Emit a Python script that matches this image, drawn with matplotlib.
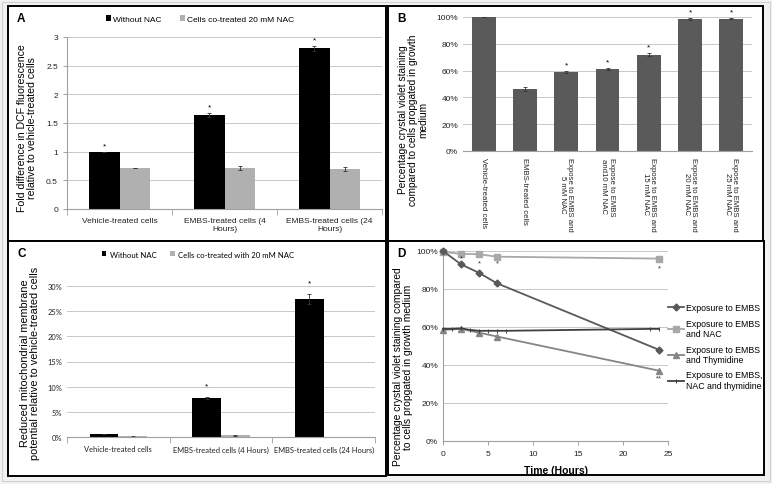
import matplotlib
matplotlib.use('Agg')
import matplotlib.pyplot as plt
from matplotlib.patches import Rectangle
from matplotlib.ticker import PercentFormatter, FixedLocator
import numpy as np

plt.rcParams['font.family'] = ['Liberation Sans', 'DejaVu Sans']

# ---- panel A data ----
a_cats = ['Vehicle-treated cells', 'EMBS-treated cells (4\nHours)', 'EMBS-treated cells (24\nHours)']
a_without = [1.00, 1.64, 2.80]
a_without_err = [0.0, 0.04, 0.05]
a_nac = [0.715, 0.715, 0.70]
a_nac_err = [0.005, 0.03, 0.03]

# ---- panel B data ----
b_cats = ['Vehicle-treated cells', 'EMBS-treated cells', 'Expose to EMBS and\n5 mM NAC',
          'Expose to EMBS\nand10 mM NAC', 'Expose to EMBS and\n15 mM NAC',
          'Expose to EMBS and\n20 mM NAC', 'Expose to EMBS and\n25 mM NAC']
b_vals = [1.00, 0.46, 0.59, 0.61, 0.72, 0.985, 0.988]
b_err = [0.0, 0.015, 0.01, 0.007, 0.012, 0.005, 0.005]
b_star = [False, False, True, True, True, True, True]

# ---- panel C data ----
c_cats = ['Vehicle-treated cells', 'EMBS-treated cells (4 Hours)', 'EMBS-treated cells (24 Hours)']
c_without = [0.006, 0.077, 0.275]
c_without_err = [0.0005, 0.002, 0.010]
c_nac = [0.001, 0.0035, 0.0]
c_nac_err = [0.0005, 0.0008, 0.0]
c_star = [False, True, True]

# ---- panel D data ----
d_hours = [0, 2, 4, 6, 24]
d_embs = [100, 93, 88.5, 83, 48]
d_nac = [99.5, 98.5, 98.3, 97, 96]
d_thy = [58.5, 59, 57, 55, 37]
d_all_hours = [0, 1, 2, 3, 4, 5, 6, 7, 23, 24]
d_all = [59, 59, 59.3, 58.5, 58, 58, 58, 58, 59, 59]
d_star_x = [2, 4, 6, 24, 24]
d_star_y = [96.5, 94, 94, 91, 33]
d_star_txt = ['*', '*', '*', '*', '**']

W, H = 772, 485
fig = plt.figure(figsize=(W / 100, H / 100), dpi=100, facecolor='#f2f2f2')


def fx(px):
    return px / W


def fy(py):
    return 1 - py / H


def panel(x0, y0, x1, y1, letter):
    fig.add_artist(Rectangle((fx(x0), fy(y1)), fx(x1 - x0), (y1 - y0) / H,
                             transform=fig.transFigure, facecolor='white',
                             edgecolor='black', linewidth=1.4, zorder=0))
    fig.text(fx(x0 + 9), fy(y0 + 12), letter, fontsize=8.5, fontweight='bold',
             ha='left', va='center')


def ylab(px, py, txt, size=7.5, ls=1.15):
    fig.text(fx(px), fy(py), txt, rotation=90, ha='center', va='center',
             fontsize=size, linespacing=ls, multialignment='center')


def make_ax(x0, y0, x1, y1):
    ax = fig.add_axes([fx(x0), fy(y1), fx(x1 - x0), (y1 - y0) / H])
    ax.set_facecolor('none')
    for s in ['top', 'right']:
        ax.spines[s].set_visible(False)
    ax.spines['bottom'].set_color('#a0a0a0')
    ax.spines['left'].set_color('#a0a0a0')
    ax.spines['bottom'].set_linewidth(0.8)
    ax.spines['left'].set_linewidth(0.8)
    ax.grid(axis='y', color='#c8c8c8', linewidth=0.7)
    ax.set_axisbelow(True)
    ax.tick_params(colors='#a0a0a0', labelcolor='#222222', labelsize=6, width=0.7, length=3)
    return ax


fig.add_artist(Rectangle((fx(2), fy(482)), fx(768), 479 / H, transform=fig.transFigure,
                         facecolor='none', edgecolor='#d0d0d0', linewidth=0.8, zorder=0))
panel(8, 7, 386, 242, 'A')
panel(388, 7, 763, 242, 'B')
panel(8, 242, 386, 477, 'C')
panel(388, 242, 764, 476, 'D')

# ---------------- A ----------------
ax = make_ax(67, 38, 382, 210)
x = np.arange(len(a_cats))
w = 0.286
ekw = dict(elinewidth=0.6, ecolor='#333333', capthick=0.6)
ax.bar(x - w / 2, a_without, w, yerr=a_without_err, capsize=1.5, error_kw=ekw,
       color='black', label='Without NAC')
ax.bar(x + w / 2, a_nac, w, yerr=a_nac_err, capsize=1.5, error_kw=ekw,
       color='#b0b0b0', label='Cells co-treated 20 mM NAC')
for i in range(len(a_cats)):
    ax.text(x[i] - w / 2, a_without[i] + a_without_err[i] + 0.1, '*', ha='center',
            va='center', fontsize=6)
ax.set_xlim(-0.5, 2.5)
ax.set_ylim(0, 3)
ax.set_yticks([0, 0.5, 1, 1.5, 2, 2.5, 3])
ax.set_yticklabels(['0', '0.5', '1', '1.5', '2', '2.5', '3'])
ax.set_xticks(x)
ax.set_xticklabels(a_cats)
ax.tick_params(axis='x', length=0, pad=6)
ax.xaxis.set_minor_locator(FixedLocator([-0.5, 0.5, 1.5, 2.5]))
ax.tick_params(axis='x', which='minor', length=4, color='#a0a0a0')
ylab(27, 128, 'Fold difference in DCF fluorescence\nrelative to vehicle-treated cells', 7.6, 1.1)
ax.legend(loc='center', bbox_to_anchor=(fx(200), fy(20)), bbox_transform=fig.transFigure,
          ncol=2, frameon=False, fontsize=6, handlelength=0.6, handleheight=0.6,
          handletextpad=0.2, columnspacing=2.2)

# ---------------- B ----------------
ax = make_ax(463, 18, 752, 152)
x = np.arange(len(b_cats))
ax.bar(x, b_vals, 0.58, yerr=b_err, capsize=1.5, error_kw=ekw, color='#5a5a5a')
for i in range(len(b_cats)):
    if b_star[i]:
        ax.text(x[i], b_vals[i] + b_err[i] + 0.045, '*', ha='center', va='center',
                fontsize=6, clip_on=False)
ax.set_xlim(-0.5, len(b_cats) - 0.5)
ax.set_ylim(0, 1)
ax.set_yticks(np.linspace(0, 1, 6))
ax.yaxis.set_major_formatter(PercentFormatter(1.0, decimals=0))
ax.set_xticks(x)
ax.set_xticklabels(b_cats, rotation=270, fontsize=5.6, linespacing=1.0)
ax.tick_params(axis='x', length=0, pad=4)
ax.tick_params(axis='y', length=0)
ax.spines['left'].set_visible(False)
ylab(413, 120, 'Percentage crystal violet staining\ncompared to cells propgated in growth\nmedium',
     7.3, 1.05)

# ---------------- C ----------------
ax = make_ax(67, 287, 375, 438)
x = np.arange(len(c_cats))
w = 0.28
ax.bar(x - w / 2, c_without, w, yerr=c_without_err, capsize=1.5, error_kw=ekw,
       color='black', label='Without NAC')
ax.bar(x + w / 2, c_nac, w, yerr=c_nac_err, capsize=1.5, error_kw=ekw,
       color='#b0b0b0', label='Cells co-treated with 20 mM NAC')
for i in range(len(c_cats)):
    if c_star[i]:
        ax.text(x[i] - w / 2, c_without[i] + c_without_err[i] + 0.022, '*', ha='center',
                va='center', fontsize=6, clip_on=False)
ax.set_xlim(-0.5, 2.5)
ax.set_ylim(0, 0.30)
ax.set_yticks(np.linspace(0, 0.30, 7))
ax.yaxis.set_major_formatter(PercentFormatter(1.0, decimals=0))
ax.set_xticks(x)
ax.set_xticklabels(c_cats, family=['Lato', 'DejaVu Sans'], fontsize=5.4)
for lab in ax.get_yticklabels():
    lab.set_family(['Lato', 'DejaVu Sans'])
    lab.set_fontsize(5.4)
ax.tick_params(axis='x', length=0, pad=6)
ax.tick_params(axis='y', length=0)
ax.spines['left'].set_visible(False)
ax.xaxis.set_minor_locator(FixedLocator([-0.5, 0.5, 1.5, 2.5]))
ax.tick_params(axis='x', which='minor', length=4, color='#a0a0a0')
ylab(30, 363, 'Reduced mitochondrial membrane\npotential relative to vehicle-treated cells', 7.8, 1.1)
ax.legend(loc='center', bbox_to_anchor=(fx(198), fy(255)), bbox_transform=fig.transFigure,
          ncol=2, frameon=False, prop={'family': ['Lato', 'DejaVu Sans'], 'size': 5.6},
          handlelength=0.6, handleheight=0.6, handletextpad=0.4, columnspacing=1.8)

# ---------------- D ----------------
ax = make_ax(443, 252, 668, 442)
ax.plot(d_hours, d_embs, color='#595959', marker='D', markersize=3.5, linewidth=1.3,
        label='Exposure to EMBS', clip_on=False, zorder=4)
ax.plot(d_hours, d_nac, color='#a8a8a8', marker='s', markersize=4.2, linewidth=1.3,
        label='Exposure to EMBS\nand NAC', clip_on=False, zorder=3)
ax.plot(d_hours, d_thy, color='#858585', marker='^', markersize=4.5, linewidth=1.3,
        label='Exposure to EMBS\nand Thymidine', clip_on=False, zorder=3)
ax.plot(d_all_hours, d_all, color='#404040', marker='|', markersize=3.5, markeredgewidth=0.7,
        linewidth=1.3, label='Exposure to EMBS,\nNAC and thymidine', clip_on=False, zorder=5)
for sx, sy, st in zip(d_star_x, d_star_y, d_star_txt):
    ax.text(sx, sy, st, ha='center', va='center', fontsize=5.5, color='#333333')
ax.set_xlim(0, 25)
ax.set_ylim(0, 100)
ax.set_xticks([0, 5, 10, 15, 20, 25])
ax.set_yticks([0, 20, 40, 60, 80, 100])
ax.yaxis.set_major_formatter(PercentFormatter(100, decimals=0))
ax.tick_params(axis='y', length=0)
ax.tick_params(axis='x', length=3)
ax.set_xlabel('Time (Hours)', fontsize=7.5, fontweight='bold', labelpad=6)
ylab(403, 367, 'Percentage crystal violet staining compared\nto cells propgated in growth medium',
     7.4, 1.1)
ax.legend(loc='upper left', bbox_to_anchor=(fx(668), fy(304)), bbox_transform=fig.transFigure,
          frameon=False, fontsize=6.3, handlelength=1.8, handletextpad=0.3,
          labelspacing=0.75, borderaxespad=0, borderpad=0)

fig.savefig('out.png', dpi=100, facecolor=fig.get_facecolor())
